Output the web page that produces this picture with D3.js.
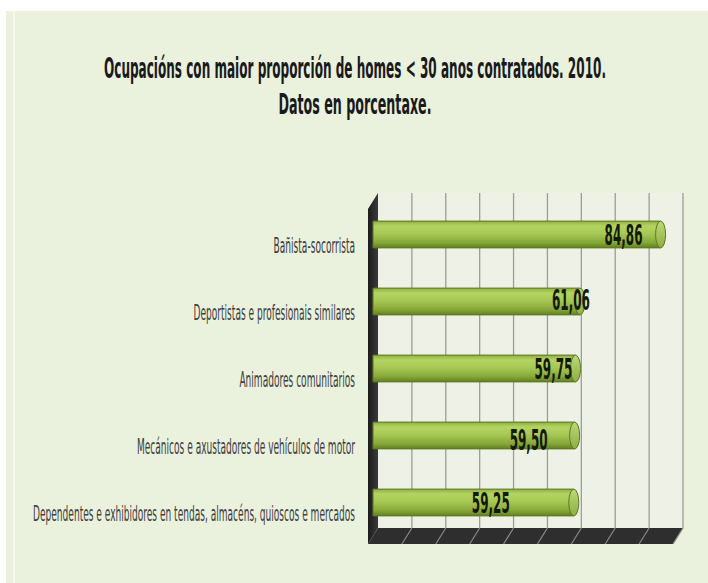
<!DOCTYPE html>
<html>
  <head>
    <meta charset="utf-8">
    <style>
      body { margin: 0; background: #ffffff; }
      svg { display: block; }
      .title { font-family: "Liberation Sans Narrow", "DejaVu Sans Condensed", Arial, sans-serif; font-weight: bold; font-size: 29px; fill: #1a1a1a; }
      .cat { font-family: "Liberation Sans Narrow", "DejaVu Sans Condensed", Arial, sans-serif; font-size: 22px; fill: #404040; }
      .val { font-family: "Liberation Sans Narrow", "DejaVu Sans Condensed", Arial, sans-serif; font-weight: bold; font-size: 28px; fill: #141a08; }
    </style>
  </head>
  <body>
    <script src="https://cdn.jsdelivr.net/npm/d3@7"></script>
    <script>
      // data
      var categories = [
        "Bañista-socorrista",
        "Deportistas e profesionais similares",
        "Animadores comunitarios",
        "Mecánicos e axustadores de vehículos de motor",
        "Dependentes e exhibidores en tendas, almacéns, quioscos e mercados"
      ];
      var values = [84.86, 61.06, 59.75, 59.50, 59.25];
      var gridTicks = [10, 20, 30, 40, 50, 60, 70, 80, 90];
      var titleLines = [
        "Ocupacións con maior proporción de homes < 30 anos contratados. 2010.",
        "Datos en porcentaxe."
      ];

      // hand placed value labels in the original (pixel nudges from bar end)
      var labelDx = [-37, -9, -22, -46, -83];
      var labelDy = [0, -2, 0, 4, 0];

      var width = 708, height = 583;
      var depthX = 10, depthY = 16;   // 3d offset back -> front
      var wallTop = 193, wallBottom = 528;

      var svg = d3.select("body").append("svg")
          .attr("width", width)
          .attr("height", height);

      var defs = svg.append("defs");
      var grad = defs.append("linearGradient")
          .attr("id", "barGrad")
          .attr("x1", 0).attr("y1", 0).attr("x2", 0).attr("y2", 1);
      grad.append("stop").attr("offset", "0%").attr("stop-color", "#8fae42");
      grad.append("stop").attr("offset", "18%").attr("stop-color", "#b3d460");
      grad.append("stop").attr("offset", "45%").attr("stop-color", "#a8c957");
      grad.append("stop").attr("offset", "80%").attr("stop-color", "#86a838");
      grad.append("stop").attr("offset", "100%").attr("stop-color", "#617f22");

      var capGrad = defs.append("linearGradient")
          .attr("id", "capGrad")
          .attr("x1", 0).attr("y1", 0).attr("x2", 0).attr("y2", 1);
      capGrad.append("stop").attr("offset", "0%").attr("stop-color", "#bcd976");
      capGrad.append("stop").attr("offset", "100%").attr("stop-color", "#8eae44");

      var wallGrad = defs.append("linearGradient")
          .attr("id", "wallGrad")
          .attr("x1", 0).attr("y1", 0).attr("x2", 1).attr("y2", 0);
      wallGrad.append("stop").attr("offset", "0%").attr("stop-color", "#1c1c1c");
      wallGrad.append("stop").attr("offset", "100%").attr("stop-color", "#3a3a3a");

      // chart area background
      svg.append("rect")
          .attr("x", 6).attr("y", 11)
          .attr("width", width - 6).attr("height", height - 11)
          .attr("fill", "#eaf1dd");
      svg.append("line")
          .attr("x1", 14).attr("x2", 14).attr("y1", 11).attr("y2", height)
          .attr("stroke", "#f4f8ee").attr("stroke-width", 2);

      // scales: back wall, middle (bars) and front (category axis)
      var xBack = d3.scaleLinear().domain([0, 90]).range([378, 683]);
      var xMid = d3.scaleLinear().domain([0, 90]).range([378 - depthX / 2, 683 - depthX / 2]);
      var xFront = d3.scaleLinear().domain([0, 90]).range([378 - depthX, 683 - depthX]);

      var yMid = d3.scaleBand().domain(categories)
          .range([wallTop + depthY / 2, wallBottom + depthY / 2])
          .paddingInner(0.6).paddingOuter(0.3);
      var yFront = d3.scaleBand().domain(categories)
          .range([wallTop + depthY, wallBottom + depthY])
          .paddingInner(0.6).paddingOuter(0.3);

      // back wall
      svg.append("rect")
          .attr("x", xBack(0)).attr("y", wallTop)
          .attr("width", xBack(90) - xBack(0)).attr("height", wallBottom - wallTop)
          .attr("fill", "#eef2e6");

      // grid lines on the back wall
      svg.append("g").selectAll("line")
          .data(gridTicks)
          .enter().append("line")
          .attr("x1", function (d) { return xBack(d); })
          .attr("x2", function (d) { return xBack(d); })
          .attr("y1", wallTop).attr("y2", wallBottom)
          .attr("stroke", "#9c9c9c")
          .attr("stroke-width", 1.3);

      // floor
      var floor = d3.path();
      floor.moveTo(xBack(0), wallBottom);
      floor.lineTo(xBack(90), wallBottom);
      floor.lineTo(xFront(90), wallBottom + depthY);
      floor.lineTo(xFront(0), wallBottom + depthY);
      floor.closePath();
      svg.append("path").attr("d", floor.toString()).attr("fill", "#2e2e2e");

      svg.append("g").selectAll("line")
          .data(gridTicks)
          .enter().append("line")
          .attr("x1", function (d) { return xBack(d); })
          .attr("x2", function (d) { return xFront(d); })
          .attr("y1", wallBottom).attr("y2", wallBottom + depthY)
          .attr("stroke", "#8a8a8a")
          .attr("stroke-width", 1.2);

      // left side wall
      var wall = d3.path();
      wall.moveTo(xFront(0), wallTop + depthY);
      wall.lineTo(xBack(0), wallTop);
      wall.lineTo(xBack(0), wallBottom);
      wall.lineTo(xFront(0), wallBottom + depthY);
      wall.closePath();
      svg.append("path").attr("d", wall.toString()).attr("fill", "url(#wallGrad)");

      // bars as horizontal cylinders
      var capRx = 5;
      var bars = svg.append("g").selectAll("g")
          .data(values)
          .enter().append("g");

      bars.append("path")
          .attr("d", function (d, i) {
            var y0 = yMid(categories[i]), h = yMid.bandwidth();
            var x0 = xMid(0), x1 = xMid(d);
            var p = d3.path();
            p.moveTo(x0, y0);
            p.lineTo(x1, y0);
            p.lineTo(x1, y0 + h);
            p.lineTo(x0, y0 + h);
            p.closePath();
            return p.toString();
          })
          .attr("fill", "url(#barGrad)")
          .attr("stroke", "#5d7821")
          .attr("stroke-width", 1);

      bars.append("ellipse")
          .attr("cx", function (d) { return xMid(d); })
          .attr("cy", function (d, i) { return yMid(categories[i]) + yMid.bandwidth() / 2; })
          .attr("rx", capRx)
          .attr("ry", yMid.bandwidth() / 2)
          .attr("fill", "url(#capGrad)")
          .attr("stroke", "#5d7821")
          .attr("stroke-width", 1);

      // value labels
      var fmt = d3.formatLocale({ decimal: ",", thousands: ".", grouping: [3], currency: ["", "€"] }).format(".2f");
      svg.append("g").selectAll("text")
          .data(values)
          .enter().append("text")
          .attr("class", "val")
          .attr("text-anchor", "middle")
          .attr("x", function (d, i) { return xMid(d) + labelDx[i]; })
          .attr("y", function (d, i) { return yMid(categories[i]) + yMid.bandwidth() / 2 + labelDy[i]; })
          .attr("dy", "0.36em")
          .attr("textLength", 38)
          .attr("lengthAdjust", "spacingAndGlyphs")
          .text(function (d) { return fmt(d); });

      // category labels, squeezed like the original
      var labelRight = 355;
      var cats = svg.append("g").selectAll("text")
          .data(categories)
          .enter().append("text")
          .attr("class", "cat")
          .attr("text-anchor", "end")
          .attr("x", labelRight)
          .attr("y", function (d) { return yFront(d) + yFront.bandwidth() / 2 + 3; })
          .attr("dy", "0.35em")
          .text(function (d) { return d; });
      var longest = 0;
      cats.each(function () { longest = Math.max(longest, this.getComputedTextLength()); });
      var squeeze = 322 / longest;
      cats.each(function () {
        var w = this.getComputedTextLength() * squeeze;
        this.setAttribute("textLength", w);
        this.setAttribute("lengthAdjust", "spacingAndGlyphs");
      });

      // title
      var titleWidths = [502, 153];
      svg.append("g").selectAll("text")
          .data(titleLines)
          .enter().append("text")
          .attr("class", "title")
          .attr("text-anchor", "middle")
          .attr("x", 355)
          .attr("y", function (d, i) { return 78 + i * 36; })
          .attr("textLength", function (d, i) { return titleWidths[i]; })
          .attr("lengthAdjust", "spacingAndGlyphs")
          .text(function (d) { return d; });
    </script>
  </body>
</html>
